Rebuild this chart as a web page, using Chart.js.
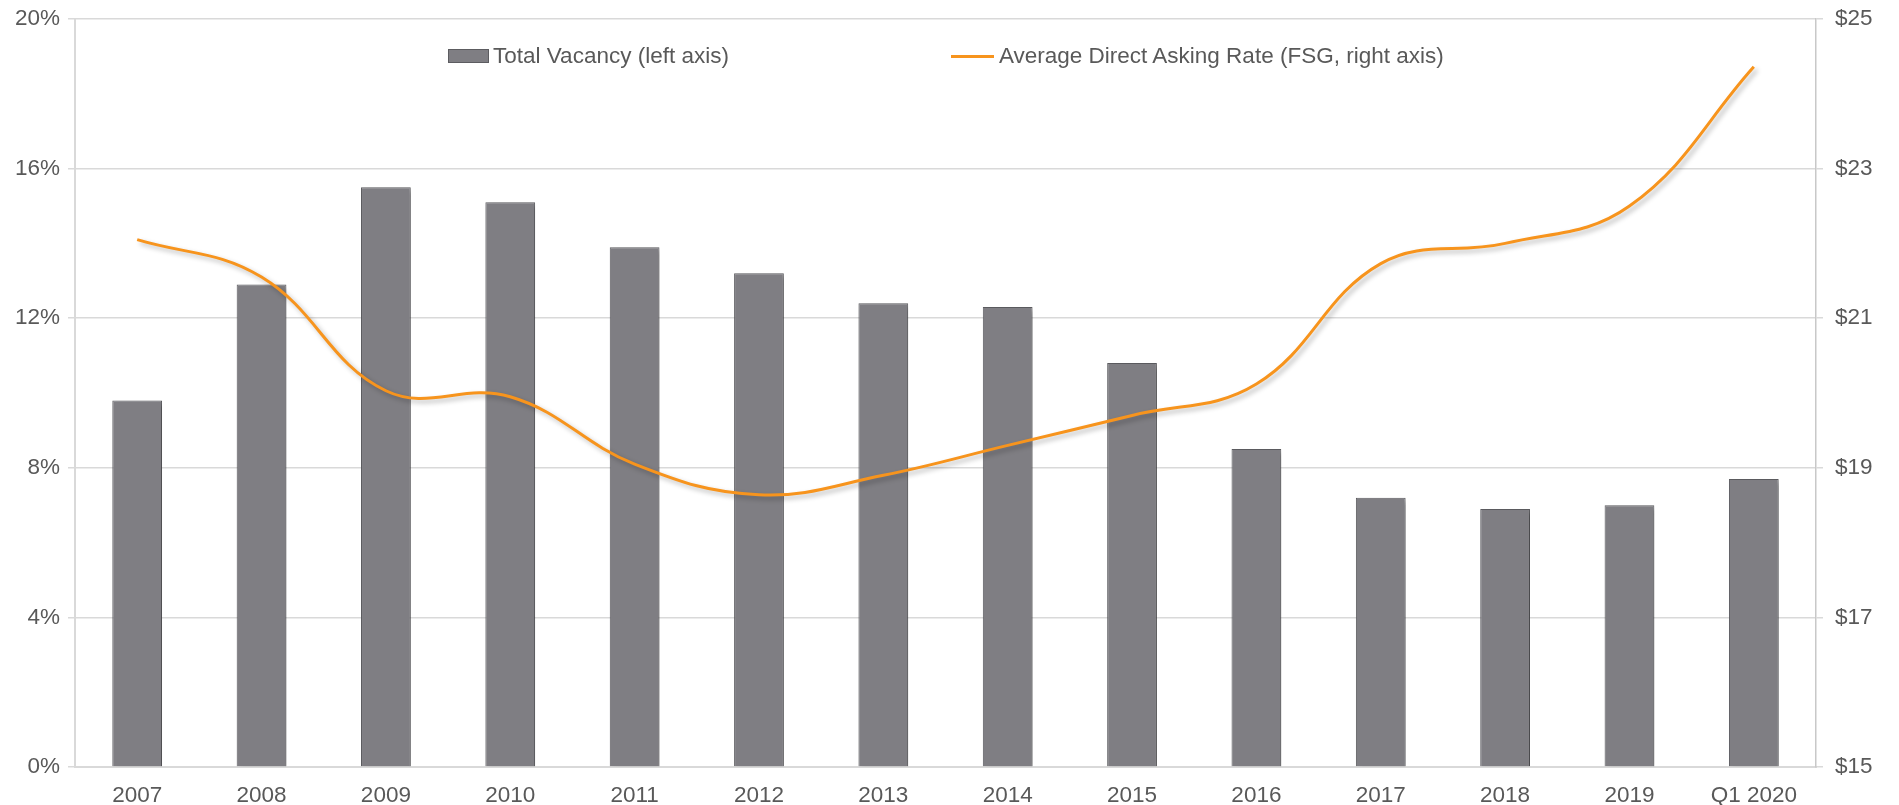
<!DOCTYPE html>
<html lang="en">
<head>
    <meta charset="UTF-8">
    <title>Total Vacancy vs Average Direct Asking Rate</title>
    <script src="https://cdn.jsdelivr.net/npm/chart.js"></script>
    <style>
        html, body { margin: 0; padding: 0; background: #fff; }
        .wrap { position: relative; width: 1899px; height: 805px; }
        #legend {
            position: absolute; left: 448px; top: 43px;
            display: flex; align-items: center;
            font-family: "Liberation Sans", Arial, sans-serif;
            font-size: 22.5px; color: #595959;
        }
        #legend .item { display: flex; align-items: center; }
        #legend .item:first-child { margin-right: 222px; }
        #legend .box { width: 41px; height: 14px; margin-right: 4px; box-sizing: border-box; }
        #legend .line { width: 43px; height: 3px; margin-right: 5px; }
    </style>
</head>
<body>
    <div class="wrap">
        <canvas id="chart" width="1899" height="805"></canvas>
        <div id="legend"></div>
    </div>

    <script>
        const categories = ['2007', '2008', '2009', '2010', '2011', '2012', '2013', '2014', '2015', '2016', '2017', '2018', '2019', 'Q1 2020'];
        const totalVacancy = [9.8, 12.9, 15.5, 15.1, 13.9, 13.2, 12.4, 12.3, 10.8, 8.5, 7.2, 6.9, 7.0, 7.7];
        const askingRate = [22.05, 21.55, 20.03, 19.95, 19.05, 18.64, 18.9, 19.3, 19.7, 20.12, 21.73, 22.0, 22.5, 24.36];

        const leftTicks = [0, 4, 8, 12, 16, 20];
        const rightTicks = [15, 17, 19, 21, 23, 25];

        const textColor = '#595959';
        const gridColor = '#d9d9d9';
        const font = { family: '"Liberation Sans", Arial, sans-serif', size: 22.5 };

        // soft drop shadow like the original
        const shadowPlugin = {
            id: 'shadow',
            beforeDatasetDraw(chart) {
                const ctx = chart.ctx;
                ctx.save();
                ctx.shadowColor = 'rgba(0,0,0,0.28)';
                ctx.shadowBlur = 5;
                ctx.shadowOffsetX = 3;
                ctx.shadowOffsetY = 3;
            },
            afterDatasetDraw(chart) {
                chart.ctx.restore();
            }
        };

        function fixVertical(width) {
            return scale => {
                scale.width = width;
                scale.paddingTop = 0;
                scale.paddingBottom = 0;
            };
        }

        const chart = new Chart(document.getElementById('chart'), {
            type: 'bar',
            data: {
                labels: categories,
                datasets: [
                    {
                        type: 'line',
                        label: 'Average Direct Asking Rate (FSG, right axis)',
                        data: askingRate,
                        yAxisID: 'y2',
                        borderColor: '#f7941d',
                        backgroundColor: '#f7941d',
                        borderWidth: 3,
                        pointRadius: 0,
                        tension: 0.4,
                        order: 0
                    },
                    {
                        label: 'Total Vacancy (left axis)',
                        data: totalVacancy,
                        yAxisID: 'y',
                        backgroundColor: '#7f7e83',
                        borderColor: '#5c5c60',
                        borderWidth: 1,
                        categoryPercentage: 1,
                        barPercentage: 0.4,
                        order: 1
                    }
                ]
            },
            options: {
                responsive: false,
                animation: false,
                layout: { padding: { top: 19, left: 2, right: 0, bottom: 0 } },
                plugins: {
                    legend: { display: false },
                    tooltip: { enabled: false }
                },
                scales: {
                    x: {
                        offset: true,
                        grid: { display: false },
                        border: { color: gridColor, width: 2 },
                        ticks: { color: textColor, font: font, padding: 7, maxRotation: 0 },
                        afterFit(scale) { scale.height = 38; }
                    },
                    y: {
                        position: 'left',
                        min: 0, max: 20,
                        afterBuildTicks(scale) { scale.ticks = leftTicks.map(v => ({ value: v })); },
                        grid: { color: gridColor, lineWidth: 1.5, tickLength: 7 },
                        border: { color: gridColor, width: 2 },
                        ticks: { color: textColor, font: font, padding: 8, callback: v => v + '%' },
                        afterFit: fixVertical(73)
                    },
                    y2: {
                        position: 'right',
                        min: 15, max: 25,
                        afterBuildTicks(scale) { scale.ticks = rightTicks.map(v => ({ value: v })); },
                        grid: { drawOnChartArea: false, color: gridColor, lineWidth: 1.5, tickLength: 7 },
                        border: { color: '#c8c8c8', width: 1.5 },
                        ticks: { color: textColor, font: font, padding: 12, callback: v => '$' + v },
                        afterFit: fixVertical(83)
                    }
                }
            },
            plugins: [shadowPlugin]
        });

        // legend built from the datasets (bar first, then line)
        const legend = document.getElementById('legend');
        [chart.data.datasets[1], chart.data.datasets[0]].forEach(ds => {
            const item = document.createElement('div');
            item.className = 'item';
            const mark = document.createElement('span');
            if (ds.type === 'line') {
                mark.className = 'line';
                mark.style.background = ds.borderColor;
            } else {
                mark.className = 'box';
                mark.style.background = ds.backgroundColor;
                mark.style.border = '1.5px solid ' + ds.borderColor;
            }
            const txt = document.createElement('span');
            txt.textContent = ds.label;
            item.appendChild(mark);
            item.appendChild(txt);
            legend.appendChild(item);
        });
    </script>
</body>
</html>
